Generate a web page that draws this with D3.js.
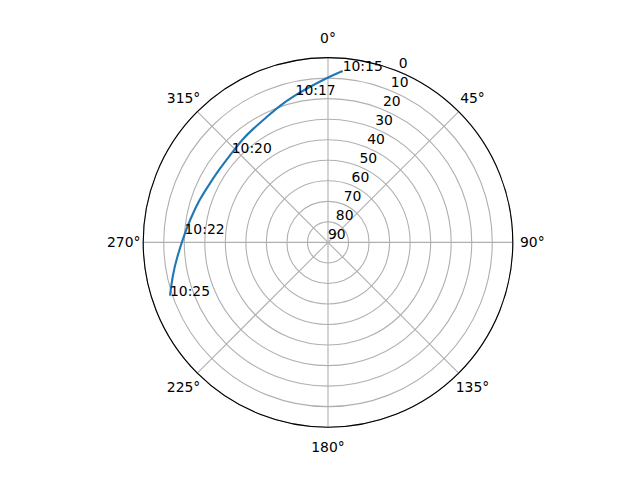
<!DOCTYPE html>
<html><head><meta charset="utf-8">
<script src="https://cdn.jsdelivr.net/npm/d3@7"></script>
<style>html,body{margin:0;padding:0;background:#fff}svg{display:block}</style>
</head><body>
<svg id="chart" width="640" height="480"></svg>
<script>
// Satellite pass sky track (azimuth clockwise from north, elevation in degrees)
const azimuth   = [4.9, 0.1, 352.1, 347.6, 340.7, 334.0, 326.8, 320.1, 312.8, 304.5, 296.6, 288.2, 279.2, 273.4, 264.0, 258.1, 251.4];
const elevation = [6.2, 9.5, 14.4, 16.5, 19.3, 22.0, 23.7, 24.7, 26.1, 26.2, 25.7, 23.9, 21.9, 20.0, 15.9, 12.7, 8.8];
const timeLabels = ["10:15", "", "", "10:17", "", "", "", "", "10:20", "", "", "", "", "10:22", "", "", "10:25"];
const thetaTicks = [0, 45, 90, 135, 180, 225, 270, 315];
const rTicks = [0, 10, 20, 30, 40, 50, 60, 70, 80, 90];

const svg = d3.select("#chart");
const cx = 328, cy = 242.4, R = 184.8;
const font = "DejaVu Sans, sans-serif";
const g = svg.append("g").attr("transform", `translate(${cx},${cy})`);
const r = d3.scaleLinear().domain([90, 0]).range([0, R]);
const toRad = d => d * Math.PI / 180;
const px = (az, rr) => rr * Math.sin(toRad(az));
const py = (az, rr) => -rr * Math.cos(toRad(az));

// grid circles
g.selectAll("circle.grid").data(rTicks).join("circle")
  .attr("r", d => r(d)).attr("fill", "none")
  .attr("stroke", "#b0b0b0").attr("stroke-width", 1.1);
// spokes
g.selectAll("line.spoke").data(thetaTicks).join("line")
  .attr("x1", 0).attr("y1", 0)
  .attr("x2", d => px(d, R)).attr("y2", d => py(d, R))
  .attr("stroke", "#b0b0b0").attr("stroke-width", 1.1);
// spine
g.append("circle").attr("r", R).attr("fill", "none").attr("stroke", "#000").attr("stroke-width", 1.1);

// theta labels
g.selectAll("text.th").data(thetaTicks).join("text")
  .attr("x", d => px(d, R + 19.5)).attr("y", d => py(d, R + 19.5))
  .attr("text-anchor", "middle").attr("dominant-baseline", "central")
  .attr("font-family", font).attr("font-size", 13.9).attr("fill", "#000")
  .text(d => d + "°");

// radial labels at 22.5°
g.selectAll("text.rl").data(rTicks).join("text")
  .attr("x", d => px(22.5, r(d))).attr("y", d => py(22.5, r(d)) - 3.3)
  .attr("font-family", font).attr("font-size", 13.9).attr("fill", "#000")
  .text(d => d);

// track
const pts = azimuth.map((a, i) => ({a, e: elevation[i], t: timeLabels[i]}));
const line = d3.line().x(d => px(d.a, r(d.e))).y(d => py(d.a, r(d.e)))
  .curve(d3.curveBasis);
g.append("path").datum(pts).attr("d", line)
  .attr("fill", "none").attr("stroke", "#1f77b4").attr("stroke-width", 2.1);

g.selectAll("text.tl").data(pts.filter(d => d.t)).join("text")
  .attr("x", d => px(d.a, r(d.e))).attr("y", d => py(d.a, r(d.e)))
  .attr("font-family", font).attr("font-size", 13.9).attr("fill", "#000")
  .text(d => d.t);
</script>
</body></html>
